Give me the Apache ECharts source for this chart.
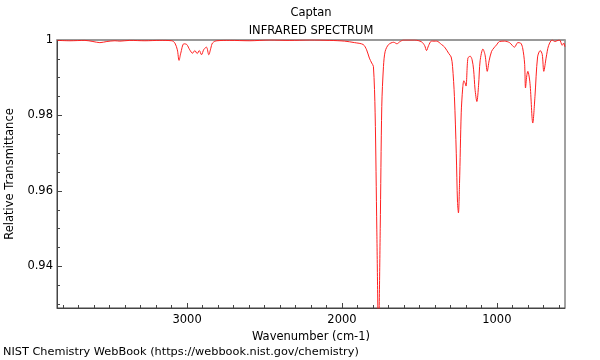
<!DOCTYPE html>
<html>
<head>
<meta charset="utf-8">
<script src="https://cdn.jsdelivr.net/npm/echarts@6/dist/echarts.min.js"></script>
<style>html,body{margin:0;padding:0;background:#fff}#c{width:600px;height:360px}</style>
</head>
<body>
<div id="c"></div>
<script>
// Spectrum data (wavenumber cm-1, relative transmittance)
const wavenumbers = [3838,3757,3660,3608,3563,3518,3466,3434,3370,3273,3176,3099,3079,3063,3052,3041,3021,3002,2983,2965,2950,2935,2921,2907,2892,2875,2860,2847,2836,2808,2725,2595,2466,2337,2208,2079,1983,1918,1863,1841,1823,1808,1797,1786,1775,1764,1753,1743,1732,1721,1699,1666,1645,1628,1602,1531,1486,1466,1454,1441,1422,1389,1357,1337,1310,1295,1286,1274,1262,1254,1248,1241,1230,1221,1213,1205,1199,1187,1172,1160,1150,1141,1129,1118,1108,1090,1076,1062,1050,1034,1019,1002,983,950,918,886,865,847,834,821,815,807,800,786,768,754,737,720,707,697,681,666,643,625,612,595,578,568,561];
const transmittance = [0.9999,0.9998,0.9999,0.9996,0.9993,0.9996,0.9998,0.9997,0.9999,0.9998,0.9999,0.9998,0.9992,0.9974,0.9946,0.9965,0.999,0.9988,0.9974,0.9965,0.9972,0.9964,0.9972,0.9961,0.9975,0.9981,0.9961,0.9978,0.9992,0.9998,0.9999,0.9998,1.0,0.9999,1.0,0.9999,0.9997,0.9993,0.9988,0.9974,0.9952,0.9939,0.993,0.9807,0.9497,0.922,0.95,0.9824,0.993,0.997,0.9988,0.9994,0.999,0.9995,1.0,1.0,0.9995,0.9985,0.9972,0.9985,0.9997,0.9997,0.9988,0.9981,0.9964,0.9955,0.993,0.985,0.97,0.957,0.9542,0.962,0.9807,0.987,0.9892,0.9886,0.9878,0.9952,0.9957,0.9948,0.9921,0.987,0.9837,0.988,0.9945,0.9976,0.996,0.9917,0.9945,0.997,0.9979,0.9987,0.9996,0.9997,0.9993,0.9981,0.9993,0.9992,0.998,0.9939,0.9873,0.9905,0.9917,0.9885,0.978,0.985,0.9955,0.9972,0.9962,0.9917,0.9955,0.9985,1.0,0.9996,0.9998,1.0,0.9986,0.9992,0.9982];
const xMajorTicks = [1000, 2000, 3000];
const xMinorTicks = [600,700,800,900,1100,1200,1300,1400,1500,1600,1700,1800,1900,2100,2200,2300,2400,2500,2600,2700,2800,2900,3100,3200,3300,3400,3500,3600,3700,3800];
const yMajorTicks = [0.94, 0.96, 0.98, 1];
const yMinorTicks = [0.93,0.935,0.945,0.95,0.955,0.965,0.97,0.975,0.985,0.99,0.995];

const X_MIN = 560, X_MAX = 3840, Y_MIN = 0.929, Y_MAX = 1.0;
const FONT = 'DejaVu Sans';
const FS = 11.5;
const seriesData = wavenumbers.map((w, i) => [w, transmittance[i]]);

const chart = echarts.init(document.getElementById('c'), null, {renderer: 'canvas'});
chart.setOption({
  animation: false,
  backgroundColor: '#fff',
  textStyle: {fontFamily: FONT},
  title: [
    {text: 'Captan', left: 311, top: 7, textAlign: 'center', padding: 0,
     textStyle: {fontFamily: FONT, fontSize: FS, fontWeight: 'normal', color: '#000'}},
    {text: 'INFRARED SPECTRUM', left: 311, top: 25, textAlign: 'center', padding: 0,
     textStyle: {fontFamily: FONT, fontSize: FS, fontWeight: 'normal', color: '#000'}},
    {text: 'NIST Chemistry WebBook (https://webbook.nist.gov/chemistry)', left: 3, top: 347, padding: 0,
     textStyle: {fontFamily: FONT, fontSize: 11.3, fontWeight: 'normal', color: '#000'}}
  ],
  grid: {left: 57, right: 35, top: 40, bottom: 52, show: true, borderColor: '#444', borderWidth: 1,
         containLabel: false, outerBoundsMode: 'none'},
  xAxis: [
    {type: 'value', position: 'bottom', inverse: true, min: X_MIN, max: X_MAX,
     name: 'Wavenumber (cm-1)', nameLocation: 'middle', nameGap: 17,
     nameTextStyle: {fontFamily: FONT, fontSize: FS, color: '#000'},
     axisLine: {show: true, lineStyle: {color: '#444', width: 1}},
     axisTick: {show: true, inside: true, length: 5, customValues: xMajorTicks, lineStyle: {color: '#444'}},
     axisLabel: {show: true, margin: 6, customValues: xMajorTicks, fontFamily: FONT, fontSize: FS, color: '#000',
       formatter: v => String(Math.round(v))},
     splitLine: {show: false}},
    {type: 'value', position: 'bottom', inverse: true, min: X_MIN, max: X_MAX,
     axisLine: {show: false},
     axisTick: {show: true, inside: true, length: 3, customValues: xMinorTicks, lineStyle: {color: '#444'}},
     axisLabel: {show: false}, splitLine: {show: false}},
    {type: 'value', position: 'top', inverse: true, min: X_MIN, max: X_MAX,
     axisLine: {show: true, lineStyle: {color: '#999', width: 2}},
     axisTick: {show: false}, axisLabel: {show: false}, splitLine: {show: false}}
  ],
  yAxis: [
    {type: 'value', position: 'left', min: Y_MIN, max: Y_MAX,
     name: 'Relative Transmittance', nameLocation: 'middle', nameGap: 40, nameRotate: 90,
     nameTextStyle: {fontFamily: FONT, fontSize: FS, color: '#000'},
     axisLine: {show: true, lineStyle: {color: '#444', width: 1}},
     axisTick: {show: true, inside: true, length: 5, customValues: yMajorTicks, lineStyle: {color: '#444'}},
     axisLabel: {show: true, margin: 4, customValues: yMajorTicks, fontFamily: FONT, fontSize: FS, color: '#000',
       formatter: v => (Math.abs(v - 1) < 1e-9 ? '1' : v.toFixed(2))},
     splitLine: {show: false}},
    {type: 'value', position: 'left', offset: 0, min: Y_MIN, max: Y_MAX,
     axisLine: {show: false},
     axisTick: {show: true, inside: true, length: 3, customValues: yMinorTicks, lineStyle: {color: '#444'}},
     axisLabel: {show: false}, splitLine: {show: false}}
  ],
  series: [{
    type: 'line', xAxisIndex: 0, yAxisIndex: 0, data: seriesData,
    showSymbol: false, smooth: 0.3, clip: true,
    lineStyle: {color: '#ff2020', width: 1}
  }]
});
</script>
</body>
</html>
